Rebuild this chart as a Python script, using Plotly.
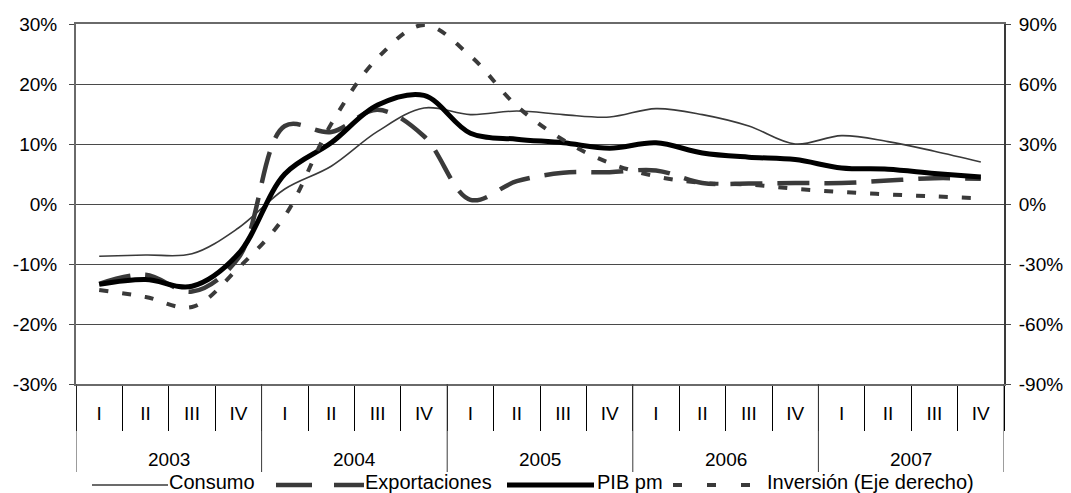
import plotly.graph_objects as go

# categories
years = ['2003', '2004', '2005', '2006', '2007']
quarters = ['I', 'II', 'III', 'IV']

# series values (%)
consumo = [-8.7, -8.5, -8.3, -4.0, 2.5, 6.3, 12.1, 16.0, 14.9, 15.5,
           14.9, 14.5, 15.9, 14.9, 13.0, 10.0, 11.4, 10.4, 8.8, 7.0]
exportaciones = [-13.3, -11.8, -14.6, -9.0, 13.0, 12.0, 15.7, 11.3, 0.7, 3.8,
                 5.2, 5.3, 5.6, 3.5, 3.4, 3.5, 3.5, 3.9, 4.3, 4.2]
pib = [-13.4, -12.6, -13.7, -8.3, 5.0, 10.2, 16.5, 18.1, 11.8, 10.8,
       10.2, 9.3, 10.2, 8.5, 7.8, 7.4, 6.0, 5.8, 5.1, 4.5]
# right axis
inversion = [-43, -46.5, -51.5, -32, -6, 40, 73, 89.5, 74, 49,
             32, 20.5, 13.8, 10.5, 9.7, 7.6, 6.0, 4.8, 3.8, 2.8]

left_ticks = [-30, -20, -10, 0, 10, 20, 30]
right_ticks = [-90, -60, -30, 0, 30, 60, 90]

quarter_labels = [q for y in years for q in quarters]
pos = list(range(len(quarter_labels)))  # category slots on the x axis
n_q = len(quarters)

FONT = 'Liberation Sans, Arial, sans-serif'
GREY = '#3a3a3a'

fig = go.Figure()
fig.add_trace(go.Scatter(x=pos, y=consumo, name='Consumo', mode='lines',
                         line=dict(color=GREY, width=1.6, shape='spline', smoothing=1)))
fig.add_trace(go.Scatter(x=pos, y=exportaciones, name='Exportaciones', mode='lines',
                         line=dict(color=GREY, width=4.5, dash='32px,15px',
                                   shape='spline', smoothing=1)))
fig.add_trace(go.Scatter(x=pos, y=pib, name='PIB pm', mode='lines',
                         line=dict(color='#000000', width=5, shape='spline', smoothing=1)))
fig.add_trace(go.Scatter(x=pos, y=inversion, name='Inversión (Eje derecho)', mode='lines',
                         yaxis='y2',
                         line=dict(color=GREY, width=4, dash='9px,14px',
                                   shape='spline', smoothing=1)))

# plot area in pixels, used to place the year row and the hand drawn legend
L, R, T, B = 76, 1004, 24, 384
W, H = R - L, B - T


def px(v):
    return (v - L) / W


def py(v):
    return (B - v) / H


shapes = []
annotations = []

# year row: dividers between years and centred year labels
for i in range(len(years) + 1):
    xb = i * n_q - 0.5
    shapes.append(dict(type='line', xref='x', yref='paper', x0=xb, x1=xb,
                       y0=0, y1=py(472), line=dict(color=GREY, width=1)))
for i, yr in enumerate(years):
    annotations.append(dict(text=yr, xref='x', yref='paper', x=i * n_q + (n_q - 1) / 2,
                            y=py(459), xanchor='center', yanchor='middle',
                            showarrow=False, font=dict(family=FONT, size=19, color='#000000')))

legend_line_y = 485
legend_text_y = 482
legend_items = [
    # name, sample x0, sample x1, width, dash, colour, text x
    ('Consumo', 92, 168, 1.6, 'solid', GREY, 168),
    ('Exportaciones', 276, 364, 4.5, '36px,22px', GREY, 364),
    ('PIB pm', 507, 594, 5, 'solid', '#000000', 596),
    ('Inversión (Eje derecho)', 673, 751, 4, '9px,25px', GREY, 766),
]
for name, x0, x1, w, d, c, tx in legend_items:
    shapes.append(dict(type='line', xref='paper', yref='paper',
                       x0=px(x0), x1=px(x1), y0=py(legend_line_y), y1=py(legend_line_y),
                       line=dict(color=c, width=w, dash=d)))
    annotations.append(dict(text=name, xref='paper', yref='paper',
                            x=px(tx), y=py(legend_text_y), xanchor='left', yanchor='middle',
                            showarrow=False, borderpad=0,
                            font=dict(family=FONT, size=20, color='#000000')))

fig.update_layout(
    width=1071, height=493,
    margin=dict(l=L, r=1071 - R, t=T, b=493 - B, autoexpand=False),
    paper_bgcolor='white', plot_bgcolor='white',
    font=dict(family=FONT, size=19, color='#000000'),
    showlegend=False,
    shapes=shapes,
    annotations=annotations,
    xaxis=dict(
        range=[-0.5, len(pos) - 0.5],
        tickvals=pos, ticktext=quarter_labels, ticks='',
        minor=dict(tick0=-0.5, dtick=1, ticks='outside', ticklen=45,
                   tickcolor='#000000', tickwidth=1, showgrid=False),
        showline=True, linecolor='#6a6a6a', linewidth=2, mirror=True,
        ticklabelstandoff=11,
        showgrid=False, zeroline=False,
        tickfont=dict(family=FONT, size=19),
    ),
    xaxis2=dict(
        overlaying='x', side='top', anchor='y', range=[-0.5, len(pos) - 0.5],
        tickvals=[p + 0.5 for p in pos[:-1]], ticks='inside', ticklen=5,
        tickcolor='#000000', tickwidth=1,
        showticklabels=False, showgrid=False, zeroline=False, showline=False,
    ),
    yaxis=dict(
        range=[-30, 30], tickvals=left_ticks,
        ticktext=['%d%%' % v for v in left_ticks],
        showgrid=True, gridcolor='#4a4a4a', gridwidth=1, zeroline=False,
        showline=True, linecolor='#6a6a6a', linewidth=2,
        ticks='outside', ticklen=5, tickcolor='#4a4a4a',
        ticklabelstandoff=8,
        tickfont=dict(family=FONT, size=19),
    ),
    yaxis2=dict(
        range=[-90, 90], tickvals=right_ticks,
        ticktext=['%d%%' % v for v in right_ticks],
        overlaying='y', side='right', anchor='x',
        showgrid=False, zeroline=False,
        showline=True, linecolor='#3a3a3a', linewidth=2,
        ticks='outside', ticklen=5, tickcolor='#4a4a4a',
        ticklabelstandoff=4,
        tickfont=dict(family=FONT, size=19),
    ),
)

# the page body has a default 8px margin; drop it so the figure sits at 0,0
fig.write_html('out.html', config={'displayModeBar': False},
               post_script="document.body.style.margin = '0px';")
